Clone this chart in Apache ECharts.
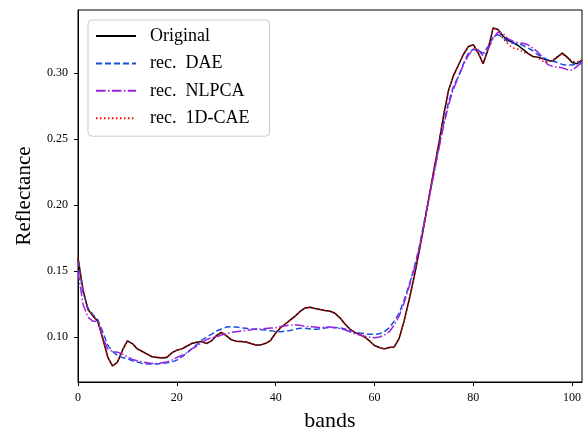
<!DOCTYPE html>
<html>
<head>
<meta charset="utf-8">
<script src="https://cdn.jsdelivr.net/npm/echarts@6/dist/echarts.min.js"></script>
<style>
html,body{margin:0;padding:0;background:#fff;}
#chart{width:585px;height:432px;}
</style>
</head>
<body>
<div id="chart"></div>
<script>
// Data (band index 0..102)
const bands = Array.from({length: 103}, (_, i) => i);
const original = [
  0.160,0.136,0.121,0.116,0.112,0.099,0.085,0.078,0.081,0.090,
  0.097,0.095,0.091,0.089,0.087,0.085,0.0845,0.084,0.0845,0.088,
  0.090,0.091,0.093,0.095,0.096,0.0965,0.095,0.097,0.101,0.1035,
  0.101,0.098,0.0968,0.0965,0.0962,0.095,0.094,0.094,0.0952,0.0975,
  0.103,0.107,0.110,0.113,0.116,0.1195,0.122,0.1225,0.1215,0.1208,
  0.120,0.1195,0.118,0.1145,0.110,0.106,0.1035,0.102,0.100,0.097,
  0.0935,0.092,0.091,0.092,0.0925,0.099,0.112,0.128,0.145,0.164,
  0.184,0.205,0.226,0.246,0.268,0.287,0.298,0.306,0.314,0.320,
  0.3215,0.315,0.307,0.318,0.334,0.333,0.328,0.325,0.323,0.321,
  0.318,0.315,0.3125,0.312,0.311,0.3095,0.309,0.312,0.315,0.312,
  0.308,0.307,0.310
];
const dae = [
  0.158,0.134,0.122,0.117,0.113,0.104,0.094,0.089,0.086,0.0845,
  0.0835,0.082,0.081,0.080,0.0795,0.0795,0.0795,0.080,0.0805,0.081,
  0.0825,0.085,0.0876,0.091,0.094,0.0975,0.100,0.102,0.1045,0.106,
  0.1075,0.1078,0.1075,0.107,0.1066,0.106,0.1058,0.1055,0.1053,0.1048,
  0.1042,0.104,0.1045,0.105,0.106,0.1066,0.1066,0.106,0.1058,0.106,
  0.1068,0.1073,0.1072,0.107,0.106,0.105,0.104,0.103,0.1025,0.102,
  0.102,0.1025,0.104,0.107,0.112,0.118,0.128,0.139,0.152,0.167,
  0.186,0.205,0.224,0.243,0.262,0.278,0.290,0.2975,0.307,0.315,
  0.318,0.317,0.315,0.320,0.327,0.329,0.327,0.3235,0.3225,0.3222,
  0.321,0.319,0.317,0.314,0.312,0.310,0.309,0.308,0.3065,0.306,
  0.306,0.307,0.3085
];
const nlpca = [
  0.150,0.125,0.115,0.112,0.112,0.100,0.091,0.089,0.0885,0.087,
  0.085,0.083,0.082,0.081,0.0805,0.080,0.080,0.0805,0.081,0.0825,
  0.0845,0.086,0.088,0.091,0.093,0.0955,0.098,0.0995,0.100,0.1015,
  0.1025,0.1035,0.104,0.1045,0.105,0.1055,0.106,0.106,0.1065,0.1068,
  0.107,0.108,0.1085,0.109,0.109,0.1088,0.108,0.1078,0.1075,0.107,
  0.1075,0.1075,0.107,0.1065,0.1055,0.104,0.1025,0.1015,0.1005,0.100,
  0.0995,0.100,0.1015,0.104,0.109,0.116,0.126,0.138,0.151,0.166,
  0.185,0.204,0.223,0.242,0.260,0.276,0.288,0.297,0.306,0.3135,
  0.318,0.3175,0.313,0.318,0.326,0.331,0.330,0.326,0.324,0.323,
  0.3225,0.3215,0.319,0.316,0.312,0.3065,0.305,0.3045,0.304,0.3025,
  0.302,0.305,0.308
];
const cae = [
  0.160,0.136,0.121,0.116,0.112,0.099,0.085,0.078,0.081,0.090,
  0.097,0.095,0.091,0.089,0.087,0.085,0.0848,0.0845,0.085,0.088,
  0.090,0.091,0.093,0.095,0.096,0.0965,0.0955,0.097,0.101,0.1035,
  0.101,0.098,0.0968,0.0965,0.0962,0.095,0.094,0.094,0.0952,0.0975,
  0.103,0.107,0.110,0.113,0.116,0.1195,0.122,0.1225,0.1215,0.1208,
  0.120,0.1195,0.118,0.1145,0.110,0.106,0.1035,0.102,0.100,0.097,
  0.0935,0.092,0.091,0.092,0.0925,0.099,0.112,0.128,0.145,0.164,
  0.184,0.205,0.226,0.246,0.268,0.287,0.298,0.306,0.314,0.320,
  0.3215,0.315,0.307,0.318,0.334,0.333,0.326,0.322,0.319,0.318,
  0.316,0.3145,0.313,0.3115,0.309,0.308,0.3095,0.3125,0.3145,0.3115,
  0.309,0.3085,0.3095
];
const xTicks = [0, 20, 40, 60, 80, 100];
const yTicks = [0.10, 0.15, 0.20, 0.25, 0.30];
const seriesNames = ['Original', 'rec.  DAE', 'rec.  NLPCA', 'rec.  1D-CAE'];

const font = 'Liberation Serif';
const chart = echarts.init(document.getElementById('chart'), null, {renderer: 'canvas'});

function mk(name, vals, color, type) {
  return {
    name: name, type: 'line', showSymbol: false, symbol: 'none', smooth: false,
    data: bands.map((b, i) => [b, vals[i]]),
    lineStyle: {color: color, width: 1.5, type: type},
    itemStyle: {color: color},
    emphasis: {disabled: true}, animation: false
  };
}

chart.setOption({
  animation: false,
  grid: {left: 78, right: 3, top: 10, bottom: 50, show: true, borderColor: '#000', borderWidth: 1,
    backgroundColor: 'transparent', outerBoundsMode: 'none', containLabel: false},
  legend: {
    left: 88, top: 20, orient: 'vertical',
    backgroundColor: '#fff', borderColor: '#ccc', borderWidth: 1, borderRadius: 4,
    padding: [7, 20, 9, 7], itemWidth: 40, itemHeight: 14, itemGap: 9.4,
    itemStyle: {opacity: 0},
    textStyle: {fontFamily: font, fontSize: 18, color: '#000', padding: [0, 0, 0, 9]},
    data: seriesNames
  },
  xAxis: {
    type: 'value', min: 0, max: 102,
    name: 'bands', nameLocation: 'middle', nameGap: 28,
    nameTextStyle: {fontFamily: font, fontSize: 22, color: '#000'},
    axisLine: {show: true, onZero: false, lineStyle: {color: '#000', width: 1}},
    axisTick: {show: true, length: 4, lineStyle: {color: '#000'}, customValues: xTicks},
    axisLabel: {fontFamily: font, fontSize: 12, color: '#000', margin: 10, customValues: xTicks},
    splitLine: {show: false}
  },
  yAxis: {
    type: 'value', min: 0.0659, max: 0.3477,
    name: 'Reflectance', nameLocation: 'middle', nameGap: 43,
    nameTextStyle: {fontFamily: font, fontSize: 21, color: '#000'},
    axisLine: {show: true, onZero: false, lineStyle: {color: '#000', width: 1}},
    axisTick: {show: true, length: 4, lineStyle: {color: '#000'}, customValues: yTicks},
    axisLabel: {fontFamily: font, fontSize: 12, color: '#000', margin: 10, customValues: yTicks,
      formatter: v => v.toFixed(2)},
    splitLine: {show: false}
  },
  series: [
    mk(seriesNames[0], original, '#000000', 'solid'),
    mk(seriesNames[1], dae, '#1450e0', [6, 3]),
    mk(seriesNames[2], nlpca, '#9a22e6', [9.6, 2.4, 1.5, 2.4]),
    mk(seriesNames[3], cae, '#ff0000', [1.5, 2.5])
  ]
});
</script>
</body>
</html>
